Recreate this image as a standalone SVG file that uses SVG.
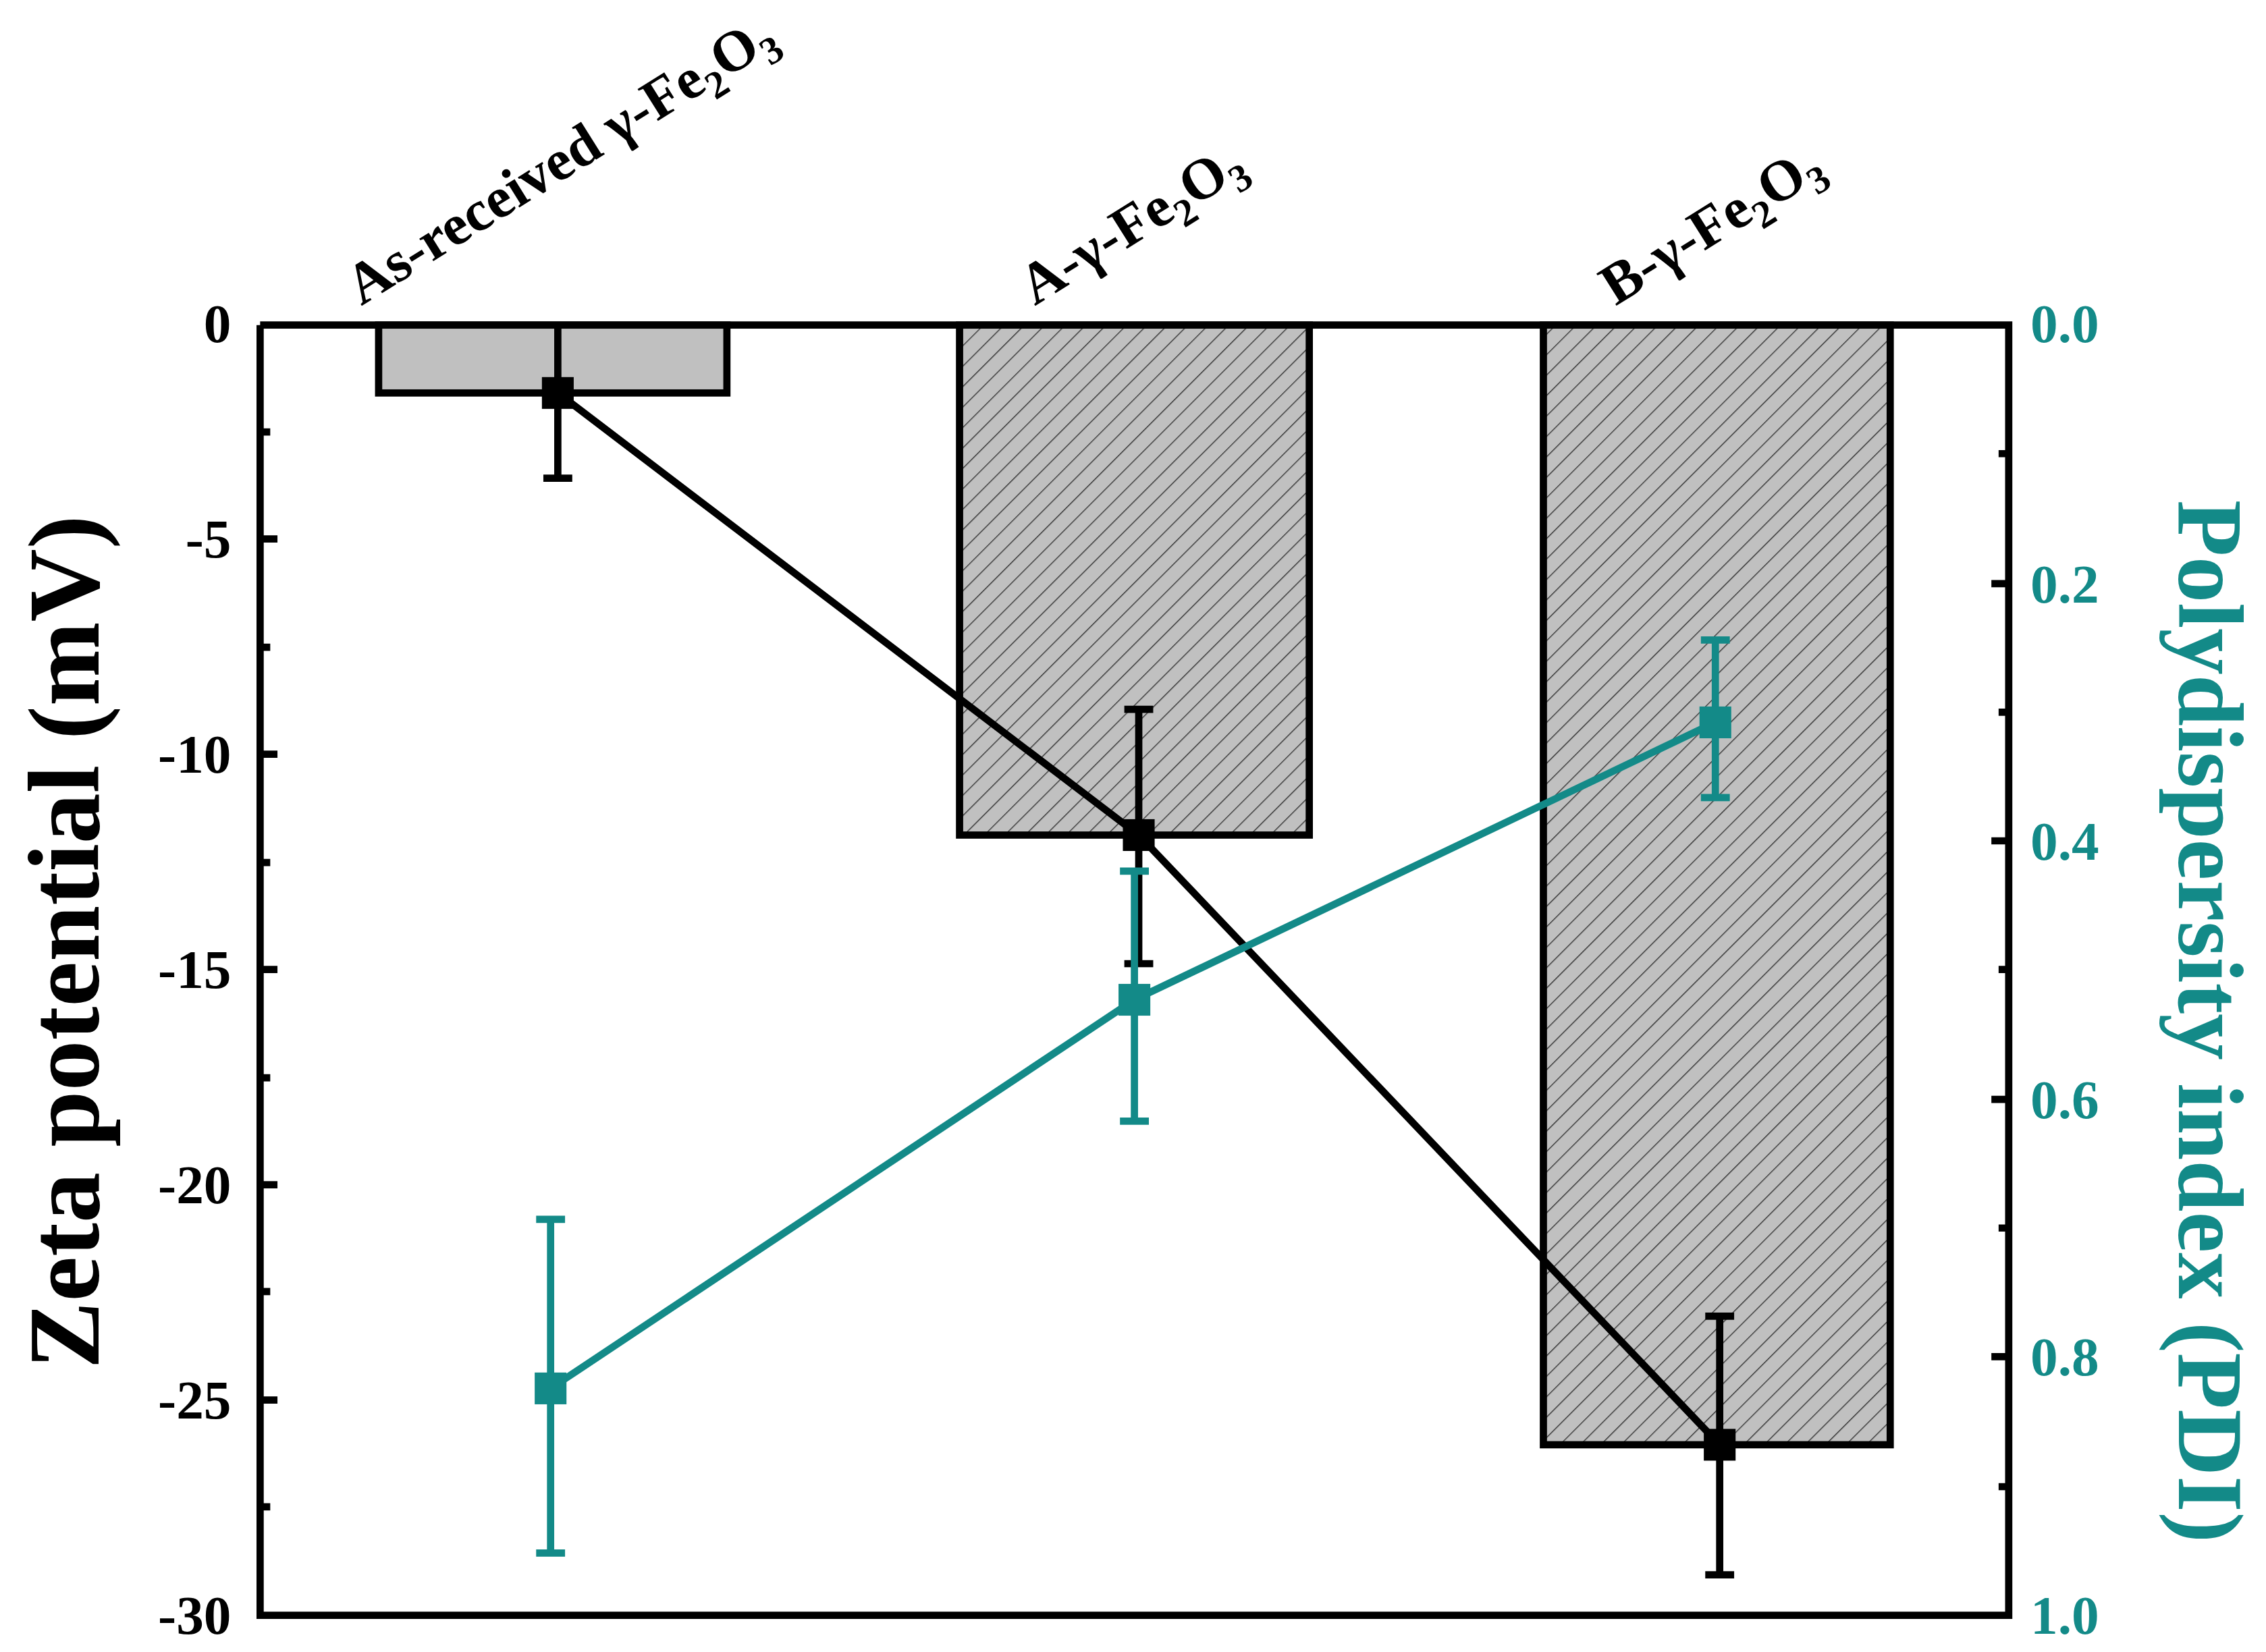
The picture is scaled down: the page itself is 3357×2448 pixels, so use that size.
<svg xmlns="http://www.w3.org/2000/svg" width="3357" height="2448" viewBox="0 0 3357 2448">
<style>
.t{font-family:"Liberation Serif","Times New Roman",Times,serif;font-weight:bold}
.tk{font-size:38px}
.ax{stroke:#000;stroke-width:5;fill:none}
.tl{stroke:#138a88;stroke-width:5;fill:none}
.bl{stroke:#000;stroke-width:5;fill:none}
</style>
<defs>
<pattern id="h" patternUnits="userSpaceOnUse" width="10" height="10" patternTransform="rotate(45)">
<rect width="10" height="10" fill="#c0c0c0"/>
<line x1="0" y1="0" x2="0" y2="10" stroke="#333" stroke-width="1.3"/>
</pattern>
</defs>
<rect width="3357" height="2448" fill="#fff"/>
<g transform="scale(2.1409)">
<g id="bars">
<rect x="262" y="225" width="241" height="47" fill="#c0c0c0" stroke="#000" stroke-width="5"/>
<rect x="664" y="225" width="242" height="353" fill="url(#h)" stroke="#000" stroke-width="5"/>
<rect x="1068" y="225" width="240" height="775" fill="url(#h)" stroke="#000" stroke-width="5"/>
</g>
<g id="axes">
<path class="ax" d="M180 225V1118H1390V225H180"/>
<path class="ax" d="M180 373h12M180 522h12M180 671h12M180 820h12M180 969h12M180 299h7M180 448h7M180 597h7M180 746h7M180 894h7M180 1043h7"/>
<path class="ax" d="M1390 404h-12M1390 582h-12M1390 761h-12M1390 939h-12M1390 314h-7M1390 493h-7M1390 671h-7M1390 850h-7M1390 1029h-7"/>
<g class="t tk" text-anchor="end">
<text x="160" y="237">0</text><text x="160" y="386">-5</text><text x="160" y="535">-10</text><text x="160" y="684">-15</text><text x="160" y="833">-20</text><text x="160" y="982">-25</text><text x="160" y="1131">-30</text>
</g>
<g class="t tk" fill="#138a88">
<text x="1405" y="237">0.0</text><text x="1405" y="417">0.2</text><text x="1405" y="595">0.4</text><text x="1405" y="774">0.6</text><text x="1405" y="952">0.8</text><text x="1405" y="1131">1.0</text>
</g>
<text class="t" font-size="70" text-anchor="middle" transform="translate(68,652) rotate(-90)">Zeta potential (mV)</text>
<text class="t" font-size="64" fill="#138a88" text-anchor="middle" transform="translate(1508,707) rotate(90)">Polydispersity index (PDI)</text>
<g class="t" font-size="40">
<text transform="translate(250,212) rotate(-32)">As-received γ-Fe<tspan font-size="27" dy="9">2</tspan><tspan dy="-9">O</tspan><tspan font-size="27" dy="9">3</tspan></text>
<text transform="translate(716,212) rotate(-32)">A-γ-Fe<tspan font-size="27" dy="9">2</tspan><tspan dy="-9">O</tspan><tspan font-size="27" dy="9">3</tspan></text>
<text transform="translate(1118,212) rotate(-32)">B-γ-Fe<tspan font-size="27" dy="9">2</tspan><tspan dy="-9">O</tspan><tspan font-size="27" dy="9">3</tspan></text>
</g>
</g>
<g id="connectors">
<path class="bl" d="M386 225V331M376 331h20M788 491V667M778 491h20M778 667h20M1190 911V1090M1180 911h20M1180 1090h20"/>
<path class="bl" d="M386 272L788 578L1190 1000"/>
<path class="tl" d="M381 844V1075M371 844h20M371 1075h20M785 603V776M775 603h20M775 776h20M1187 443V552M1177 443h20M1177 552h20"/>
<path class="tl" d="M381 961L785 692L1187 500"/>
</g>
<g id="points">
<rect x="375" y="261" width="22" height="22"/>
<rect x="777" y="567" width="22" height="22"/>
<rect x="1179" y="989" width="22" height="22"/>
<rect x="370" y="950" width="22" height="22" fill="#138a88"/>
<rect x="774" y="681" width="22" height="22" fill="#138a88"/>
<rect x="1176" y="489" width="22" height="22" fill="#138a88"/>
</g>
</g>
</svg>
